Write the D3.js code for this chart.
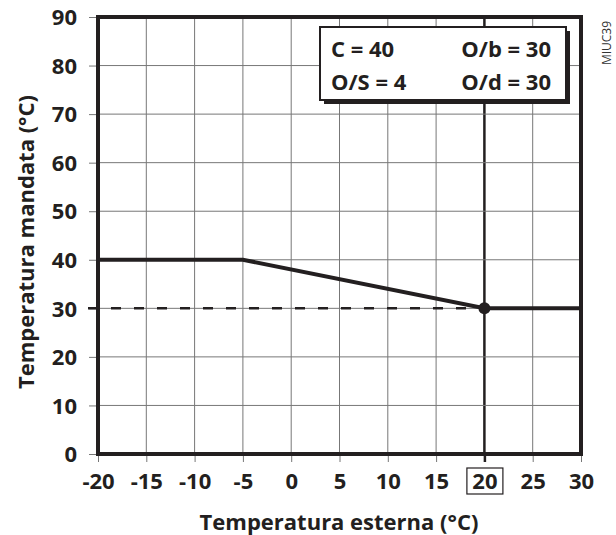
<!DOCTYPE html>
<html><head><meta charset="utf-8">
<script src="https://cdn.jsdelivr.net/npm/d3@7"></script>
<style>body{margin:0;background:#fff}svg{display:block}</style>
</head><body>
<svg id="c" width="616" height="535"></svg>
<script>
const xTicks = [-20,-15,-10,-5,0,5,10,15,20,25,30];
const yTicks = [0,10,20,30,40,50,60,70,80,90];
const curveX = [-20,-5,20,30];
const curveY = [40,40,30,30];
const dashX = [-20,20];
const dashY = [30,30];
const dotX = [20], dotY = [30];
const params = [["C = 40","O/b = 30"],["O/S = 4","O/d = 30"]];
const xTitle = "Temperatura esterna (°C)";
const yTitle = "Temperatura mandata (°C)";
const code = "MIUC39";

const ink = "#231f20";
const font = "'Open Sans', sans-serif";
const svg = d3.select("#c");
const x = d3.scaleLinear().domain([-20,30]).range([98,581]);
const y = d3.scaleLinear().domain([0,90]).range([454,17]);

// grid
svg.append("g").selectAll("line").data(xTicks.slice(1,-1)).join("line")
  .attr("x1",d=>x(d)).attr("x2",d=>x(d)).attr("y1",y(0)).attr("y2",y(90))
  .attr("stroke",d=>d===20?ink:"#777").attr("stroke-width",d=>d===20?2.5:1);
svg.append("g").selectAll("line").data(yTicks.slice(1,-1)).join("line")
  .attr("x1",x(-20)).attr("x2",x(30)).attr("y1",d=>y(d)).attr("y2",d=>y(d))
  .attr("stroke","#777").attr("stroke-width",1);

// axes
const fmt = d=>String(d);
const xa = svg.append("g").attr("transform",`translate(0,${y(0)})`)
  .call(d3.axisBottom(x).tickValues(xTicks).tickSize(8).tickPadding(19).tickFormat(fmt));
const ya = svg.append("g").attr("transform",`translate(${x(-20)},0)`)
  .call(d3.axisLeft(y).tickValues(yTicks).tickSize(9).tickPadding(12).tickFormat(fmt));
[xa,ya].forEach(a=>{
  a.select(".domain").remove();
  a.selectAll(".tick line").attr("stroke","#777").attr("stroke-width",1);
  a.selectAll(".tick text").attr("fill",ink).style("font-family",font)
    .style("font-size","22px").style("font-weight","bold");
});
xa.selectAll(".tick line").filter(d=>d===20).attr("stroke",ink).attr("stroke-width",2.5);
xa.selectAll(".tick text").attr("dy","0.35em");
ya.selectAll(".tick text").attr("dy","0.35em");
// box around 20
const t20 = xa.selectAll(".tick").filter(d=>d===20);
t20.append("rect").attr("x",-18).attr("y",14).attr("width",36).attr("height",26)
  .attr("fill","none").attr("stroke",ink).attr("stroke-width",1.2);

// frame
svg.append("rect").attr("x",x(-20)).attr("y",y(90)).attr("width",x(30)-x(-20)).attr("height",y(0)-y(90))
  .attr("fill","none").attr("stroke",ink).attr("stroke-width",4);

// dashed
const line = d3.line().x(d=>x(d[0])).y(d=>y(d[1]));
svg.append("path").attr("d",`M${x(dashX[0])-10},${y(dashY[0])}H${x(dashX[1])}`)
  .attr("stroke",ink).attr("stroke-width",2.5).attr("stroke-dasharray","10,13").attr("fill","none");
svg.append("path").attr("d",line(curveX.map((v,i)=>[v,curveY[i]])))
  .attr("stroke",ink).attr("stroke-width",4).attr("fill","none");
svg.selectAll(".dot").data(dotX).join("circle").attr("cx",d=>x(d)).attr("cy",(d,i)=>y(dotY[i])).attr("r",6).attr("fill",ink);

// param box
const bx=320, by=27, bw=246, bh=73;
svg.append("rect").attr("x",bx+4).attr("y",by+4).attr("width",bw).attr("height",bh).attr("fill",ink);
svg.append("rect").attr("x",bx).attr("y",by).attr("width",bw).attr("height",bh).attr("fill","#fff").attr("stroke",ink).attr("stroke-width",2);
params.forEach((row,i)=>{
  svg.append("text").attr("x",bx+11).attr("y",by+30+i*33).text(row[0])
    .attr("fill",ink).style("font-family",font).style("font-size","22px").style("font-weight","bold");
  svg.append("text").attr("x",bx+bw-15).attr("y",by+30+i*33).attr("text-anchor","end").text(row[1])
    .attr("fill",ink).style("font-family",font).style("font-size","22px").style("font-weight","bold");
});

// titles
svg.append("text").attr("x",339).attr("y",530).attr("text-anchor","middle").text(xTitle)
  .attr("fill",ink).style("font-family",font).style("font-size","22px").style("font-weight","bold");
svg.append("text").attr("transform","translate(34,242) rotate(-90)").attr("text-anchor","middle").text(yTitle)
  .attr("fill",ink).style("font-family",font).style("font-size","22px").style("font-weight","bold");
svg.append("text").attr("transform","translate(611,43) rotate(-90)").attr("text-anchor","middle").text(code)
  .attr("fill","#333").style("font-family",font).style("font-size","12px");
</script>
</body></html>
